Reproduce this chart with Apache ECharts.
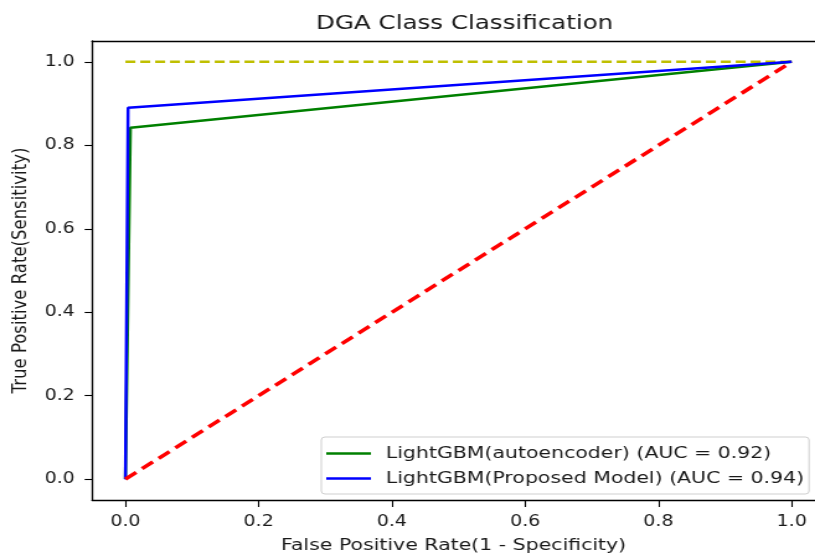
<!DOCTYPE html>
<html>
<head>
<meta charset="utf-8">
<script src="https://cdn.jsdelivr.net/npm/echarts@6/dist/echarts.min.js"></script>
<style>
html,body{margin:0;padding:0;background:#fff;overflow:hidden}
#wrap{width:815px;height:559px;overflow:hidden;position:relative}
#c{width:657px;height:559px;transform:scaleX(1.2405);transform-origin:0 0}
</style>
</head>
<body>
<div id="wrap"><div id="c"></div></div>
<script>
const chartTitle = 'DGA Class Classification';
const xName = 'False Positive Rate(1 - Specificity)';
const yName = 'True Positive Rate(Sensitivity)';
const tickValues = [0, 0.2, 0.4, 0.6, 0.8, 1.0];
const seriesNames = ['LightGBM(autoencoder) (AUC = 0.92)', 'LightGBM(Proposed Model) (AUC = 0.94)'];
const autoencoderFpr = [0, 0.0075, 1];
const autoencoderTpr = [0, 0.842, 1];
const proposedFpr = [0, 0.004, 1];
const proposedTpr = [0, 0.89, 1];
const perfectFpr = [0, 1];
const perfectTpr = [1, 1];
const chanceFpr = [0, 1];
const chanceTpr = [0, 1];

const zip = (a, b) => a.map((v, i) => [v, b[i]]);
const font = 'DejaVu Sans';
const textColor = '#1a1a1a';
const chart = echarts.init(document.getElementById('c'));
const spine = { show: true, onZero: false, lineStyle: { color: '#000', width: 1.3 } };
const labelBase = { customValues: tickValues, formatter: v => v.toFixed(1), color: textColor, fontFamily: font, fontSize: 15.3 };
chart.setOption({
  animation: false,
  backgroundColor: '#fff',
  title: { text: chartTitle, left: 369.5, top: 9, textAlign: 'center',
    textStyle: { fontFamily: font, fontSize: 19.8, fontWeight: 'normal', color: textColor } },
  grid: { left: 74, top: 41, width: 583, height: 462, show: false },
  xAxis: [
    { type: 'value', min: -0.05, max: 1.035, position: 'bottom',
      axisLine: spine,
      axisTick: { show: true, length: 7, customValues: tickValues, lineStyle: { color: '#000', width: 1.1 } },
      splitLine: { show: false },
      axisLabel: Object.assign({}, labelBase, { margin: 15 }),
      name: xName, nameLocation: 'middle', nameGap: 37,
      nameTextStyle: { color: textColor, fontFamily: font, fontSize: 16.5 } },
    { type: 'value', min: -0.05, max: 1.035, position: 'top',
      axisLine: spine, axisTick: { show: false }, axisLabel: { show: false }, splitLine: { show: false } }
  ],
  yAxis: { type: 'value', min: -0.05, max: 1.05,
    axisLine: spine,
    axisTick: { show: true, length: 6, customValues: tickValues, lineStyle: { color: '#000', width: 1.1 } },
    splitLine: { show: false },
    axisLabel: Object.assign({}, labelBase, { margin: 14 }),
    name: yName, nameLocation: 'middle', nameGap: 43,
    nameTextStyle: { color: textColor, fontFamily: font, fontSize: 16.5 } },
  legend: {
    data: seriesNames, orient: 'vertical', left: 259, top: 437,
    padding: [8, 4, 7, 4], itemGap: 8, itemWidth: 36, itemHeight: 2.5, icon: 'rect',
    backgroundColor: 'rgba(255,255,255,0.85)', borderColor: '#cfcfcf', borderWidth: 1, borderRadius: 3,
    textStyle: { fontFamily: font, fontSize: 16.5, color: textColor, padding: [0, 0, 0, 7] }
  },
  series: [
    { type: 'line', name: 'perfect', data: zip(perfectFpr, perfectTpr), symbol: 'none',
      lineStyle: { color: '#bfbf00', width: 2.5, type: [8, 4] } },
    { type: 'line', name: seriesNames[0], data: zip(autoencoderFpr, autoencoderTpr), symbol: 'none',
      color: '#008000', lineStyle: { color: '#008000', width: 2.5 } },
    { type: 'line', name: seriesNames[1], data: zip(proposedFpr, proposedTpr), symbol: 'none',
      color: '#0000ff', lineStyle: { color: '#0000ff', width: 2.5 } },
    { type: 'line', name: 'chance', data: zip(chanceFpr, chanceTpr), symbol: 'none',
      lineStyle: { color: '#ff0000', width: 3.5, type: [11, 6] } }
  ]
});
</script>
</body>
</html>
